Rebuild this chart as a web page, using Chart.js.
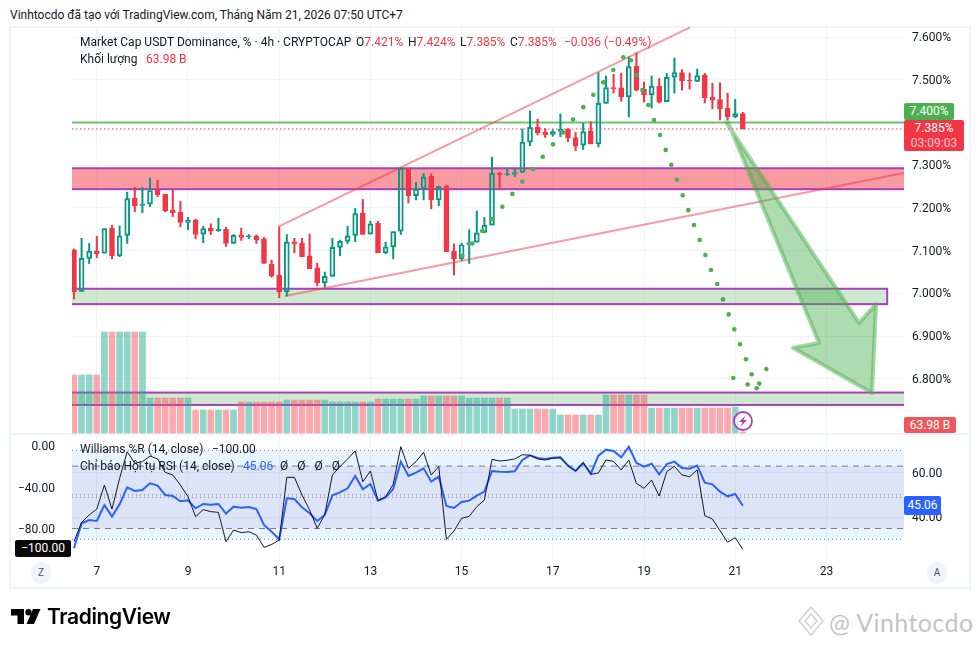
<!DOCTYPE html>
<html>
<head>
<meta charset="utf-8">
<title>USDT Dominance</title>
<script src="https://cdn.jsdelivr.net/npm/chart.js@4"></script>
<style>
    html, body { margin: 0; padding: 0; background: #fff; }
    body { width: 979px; height: 647px; position: relative; overflow: hidden; font-family: Roboto, sans-serif; color: #131722; font-size: 12px; }
    canvas { position: absolute; left: 0; display: block; }
    #frame { position: absolute; left: 9px; top: 26px; width: 958px; height: 559px; border: 2px solid #f0f3fa; }
    #sep { position: absolute; left: 10px; top: 433px; width: 958px; height: 2px; background: #f0f3fa; }
    .t { position: absolute; white-space: nowrap; line-height: 16px; }
    .r { color: #f23645; }
    .tag { position: absolute; color: #fff; text-align: center; white-space: nowrap; }
    .btn { position: absolute; width: 20px; height: 22px; top: 562px; border-radius: 11px; background: #f0f3fa; text-align: center; line-height: 22px; font-size: 10px; color: #50535e; }
</style>
</head>
<body>
<div id="frame"></div>
<div id="sep"></div>
<canvas id="price-chart" width="979" height="408" style="top:26px"></canvas>
<canvas id="osc-chart" width="979" height="153" style="top:434px"></canvas>

<div class="t" style="left:10px;top:7px">Vinhtocdo đã tạo với TradingView.com, Tháng Năm 21, 2026 07:50 UTC+7</div>
<div class="t" style="left:80px;top:34px">Market Cap USDT Dominance, % · 4h · CRYPTOCAP</div>
<div class="t" style="left:356px;top:34px">O<span class="r">7.421%</span></div>
<div class="t" style="left:408px;top:34px">H<span class="r">7.424%</span></div>
<div class="t" style="left:460px;top:34px">L<span class="r">7.385%</span></div>
<div class="t" style="left:510px;top:34px">C<span class="r">7.385%</span></div>
<div class="t r" style="left:564px;top:34px">−0.036 (−0.49%)</div>
<div class="t" style="left:80px;top:51px">Khối lượng</div>
<div class="t r" style="left:146px;top:51px">63.98 B</div>

<div class="t" style="left:80px;top:441px">Williams %R (14, close)</div>
<div class="t" style="left:212px;top:441px">−100.00</div>
<div class="t" style="left:80px;top:458px">Chỉ báo Hội tụ RSI (14, close)</div>
<div class="t" style="left:243px;top:458px;color:#2962ff">45.06</div>
<div class="t" style="left:280px;top:458px;word-spacing:6px">Ø Ø Ø Ø</div>

<div class="tag" style="left:904px;top:103px;width:50px;height:17px;line-height:17px;background:#4caf50;border-radius:2px">7.400%</div>
<div class="tag" style="left:904px;top:120px;width:60px;height:31px;background:#f23645;border-radius:2px;line-height:15px;padding-top:1px;box-sizing:border-box">7.385%<br><span style="color:#fbc4c9">03:09:03</span></div>
<div class="tag" style="left:904px;top:417px;width:52px;height:16px;line-height:16px;background:#f0575c;border-radius:2px">63.98 B</div>
<div class="tag" style="left:15px;top:540px;width:56px;height:17px;line-height:17px;background:#0a0a0a;border-radius:2px">−100.00</div>
<div class="tag" style="left:904px;top:496px;width:37px;height:19px;line-height:19px;background:#2962ff;border-radius:2px">45.06</div>

<div class="btn" style="left:31px">Z</div>
<div class="btn" style="left:927px">A</div>

<svg style="position:absolute;left:733px;top:411px" width="20" height="20" viewBox="0 0 20 20">
    <circle cx="10" cy="10" r="9" fill="rgba(255,255,255,.75)" stroke="#a83fbc" stroke-width="1.8"/>
    <path d="M12.5 4.5 L6 11 L9.5 11 L7.5 15.5 L14 9 L10.5 9 Z" fill="#a83fbc"/>
</svg>

<svg style="position:absolute;left:11px;top:609px" width="30" height="16" viewBox="0 0 30 16">
    <path d="M0 0 H13 V15 H6.5 V6.5 H0 Z" fill="#000"/>
    <circle cx="17.5" cy="3.2" r="3.2" fill="#000"/>
    <path d="M22 0 H29.5 L23 15 H15.5 Z" fill="#000"/>
</svg>
<div class="t" style="left:47px;top:605px;font-family:Inter,sans-serif;font-weight:600;font-size:21px;line-height:24px;letter-spacing:-0.4px;color:#000">TradingView</div>

<svg style="position:absolute;left:798px;top:606px" width="26" height="30" viewBox="0 0 26 30" fill="none" stroke="#cfcfcf" stroke-width="1.4">
    <path d="M13 1 L25 15 L13 29 L1 15 Z"/>
    <path d="M13 8 L19 15 L13 22 L7 15 Z"/>
</svg>
<div class="t" style="left:829px;top:608px;font-family:Lato,sans-serif;font-size:25px;line-height:28px;color:#c4c4c4;letter-spacing:0.4px">@ Vinhtocdo</div>

<script>
// 4h candles
const opens = [7.102, 7.005, 7.082, 7.099, 7.094, 7.153, 7.088, 7.136, 7.223, 7.206, 7.209, 7.242, 7.232, 7.195, 7.190, 7.166, 7.171, 7.139, 7.153, 7.147, 7.150, 7.117, 7.137, 7.133, 7.135, 7.128, 7.069, 7.043, 7.004, 7.121, 7.118, 7.088, 7.060, 7.025, 7.040, 7.108, 7.122, 7.136, 7.188, 7.139, 7.164, 7.095, 7.109, 7.146, 7.293, 7.229, 7.245, 7.274, 7.219, 7.251, 7.099, 7.081, 7.115, 7.120, 7.143, 7.160, 7.281, 7.278, 7.279, 7.283, 7.354, 7.389, 7.377, 7.372, 7.379, 7.384, 7.365, 7.347, 7.380, 7.350, 7.445, 7.482, 7.481, 7.460, 7.532, 7.478, 7.465, 7.485, 7.449, 7.506, 7.517, 7.499, 7.496, 7.511, 7.459, 7.454, 7.433, 7.414, 7.421];
const highs = [7.104, 7.129, 7.117, 7.134, 7.152, 7.160, 7.158, 7.237, 7.248, 7.248, 7.270, 7.265, 7.232, 7.244, 7.216, 7.178, 7.174, 7.157, 7.163, 7.176, 7.155, 7.138, 7.153, 7.138, 7.137, 7.131, 7.078, 7.155, 7.138, 7.129, 7.129, 7.139, 7.071, 7.050, 7.129, 7.125, 7.157, 7.199, 7.220, 7.169, 7.169, 7.120, 7.145, 7.294, 7.293, 7.260, 7.281, 7.280, 7.251, 7.254, 7.116, 7.118, 7.149, 7.193, 7.178, 7.319, 7.284, 7.294, 7.291, 7.385, 7.427, 7.408, 7.386, 7.383, 7.420, 7.386, 7.377, 7.398, 7.402, 7.517, 7.509, 7.513, 7.516, 7.554, 7.563, 7.495, 7.509, 7.503, 7.515, 7.551, 7.524, 7.516, 7.525, 7.515, 7.492, 7.493, 7.469, 7.454, 7.424];
const lows = [6.987, 7.005, 7.070, 7.084, 7.094, 7.081, 7.086, 7.117, 7.191, 7.189, 7.203, 7.226, 7.191, 7.180, 7.156, 7.149, 7.128, 7.119, 7.138, 7.145, 7.110, 7.117, 7.124, 7.128, 7.117, 7.070, 7.038, 6.990, 6.994, 7.095, 7.086, 7.058, 7.018, 7.015, 7.040, 7.088, 7.117, 7.121, 7.138, 7.139, 7.095, 7.093, 7.081, 7.138, 7.212, 7.219, 7.219, 7.198, 7.205, 7.098, 7.043, 7.077, 7.070, 7.120, 7.142, 7.160, 7.246, 7.276, 7.273, 7.283, 7.346, 7.371, 7.365, 7.368, 7.367, 7.355, 7.334, 7.337, 7.350, 7.343, 7.445, 7.469, 7.450, 7.413, 7.474, 7.448, 7.434, 7.446, 7.449, 7.469, 7.476, 7.478, 7.496, 7.446, 7.432, 7.406, 7.406, 7.411, 7.385];
const closes = [7.004, 7.082, 7.099, 7.093, 7.152, 7.088, 7.135, 7.222, 7.205, 7.209, 7.241, 7.231, 7.193, 7.189, 7.166, 7.171, 7.138, 7.152, 7.146, 7.150, 7.117, 7.136, 7.131, 7.135, 7.125, 7.070, 7.041, 7.004, 7.120, 7.116, 7.086, 7.058, 7.025, 7.040, 7.108, 7.122, 7.135, 7.187, 7.138, 7.163, 7.095, 7.109, 7.145, 7.293, 7.229, 7.244, 7.273, 7.219, 7.250, 7.098, 7.081, 7.114, 7.119, 7.142, 7.160, 7.281, 7.278, 7.280, 7.283, 7.354, 7.389, 7.376, 7.371, 7.379, 7.384, 7.364, 7.345, 7.379, 7.350, 7.445, 7.482, 7.479, 7.460, 7.531, 7.476, 7.465, 7.485, 7.448, 7.506, 7.517, 7.498, 7.498, 7.510, 7.458, 7.453, 7.432, 7.413, 7.421, 7.385];
// volume, in billions
const volumes = [3712, 3712, 3712, 3712, 6464, 6464, 6464, 6464, 6464, 6464, 2240, 2240, 2240, 2240, 2240, 2240, 1472, 1472, 1472, 1472, 1472, 1472, 1984, 1984, 1984, 1984, 1984, 1984, 2112, 2112, 2112, 2112, 2112, 2112, 1984, 1984, 1984, 1984, 1984, 1984, 2176, 2176, 2176, 2176, 2176, 2176, 2368, 2368, 2368, 2368, 2368, 2368, 2240, 2240, 2240, 2240, 2240, 2240, 1536, 1536, 1536, 1536, 1536, 1536, 1152, 1152, 1152, 1152, 1152, 1152, 2432, 2432, 2432, 2432, 2432, 2432, 1600, 1600, 1600, 1600, 1600, 1600, 1600, 1600, 1600, 1600, 1600, 1664, 63.98];
const williams = [-92.7, -74.1, -67.0, -61.3, -38.2, -61.3, -31.8, -6.1, -17.3, -15.7, -10.3, -13.1, -26.0, -28.5, -38.2, -49.4, -68.6, -61.9, -63.8, -64.5, -92.7, -81.5, -84.0, -83.1, -86.3, -98.2, -95.3, -91.1, -30.8, -30.8, -47.8, -62.2, -79.9, -66.4, -28.5, -20.5, -13.1, -5.4, -35.0, -24.7, -53.2, -49.4, -37.5, -1.3, -22.1, -15.7, -6.7, -28.5, -20.5, -90.5, -82.4, -70.2, -68.3, -59.0, -52.6, -13.5, -15.1, -14.4, -13.1, -9.0, -9.6, -13.1, -14.1, -12.5, -11.9, -19.6, -24.7, -16.4, -27.9, -26.6, -14.1, -15.4, -23.7, -14.1, -36.6, -41.4, -33.4, -48.8, -25.3, -20.2, -28.5, -30.2, -23.7, -67.7, -70.9, -82.1, -93.3, -88.9, -100];
const rsi = [25.96, 37.19, 38.69, 38.24, 45.43, 40.19, 45.73, 53.37, 51.72, 52.17, 55.17, 54.12, 49.93, 49.48, 47.08, 47.53, 43.93, 45.88, 45.58, 45.88, 41.54, 44.68, 44.23, 44.53, 43.63, 36.44, 33.45, 30.0, 48.43, 48.13, 44.38, 41.69, 38.24, 40.94, 49.78, 51.13, 52.92, 58.46, 52.47, 54.87, 47.38, 48.88, 52.62, 64.91, 58.46, 59.96, 61.91, 55.92, 58.16, 44.98, 44.08, 46.78, 47.38, 49.63, 51.42, 60.71, 60.41, 60.26, 60.56, 65.66, 67.75, 66.55, 66.10, 66.70, 66.85, 63.11, 60.71, 64.31, 59.51, 67.60, 70.30, 69.70, 66.85, 71.65, 64.31, 62.66, 64.01, 59.21, 63.86, 64.91, 62.06, 61.76, 63.11, 55.47, 54.72, 51.42, 49.33, 50.38, 45.06];

// axes
const dayTicks = [3, 15, 27, 39, 51, 63, 75, 87, 99];
const dayLabels = ["7", "9", "11", "13", "15", "17", "19", "21", "23"];
const priceTicks = [6.8, 6.9, 7.0, 7.1, 7.2, 7.3, 7.4, 7.5, 7.6];
const williamsTicks = [0, -40, -80];
const rsiTicks = [40, 60];

// drawings on the price pane, bar index and price
const zoneTops = [7.293, 7.011, 6.768];
const zoneBottoms = [7.244, 6.975, 6.739];
const zoneEnds = [120, 107.0, 120];
const zoneFills = ["rgba(242, 54, 69, 0.5)", "rgba(76, 175, 80, 0.27)", "rgba(76, 175, 80, 0.27)"];
const upperTrendX = [26.84, 81.05];
const upperTrendY = [7.156, 7.623];
const lowerTrendX = [27.76, 109.2];
const lowerTrendY = [6.994, 7.282];
const arrowX = [86.05, 98.03, 94.6, 105.0, 105.53, 103.3, 85.8];
const arrowY = [7.401, 6.884, 6.873, 6.767, 6.975, 6.931, 7.401];
const dotsX = [51.09, 52.41, 53.72, 55.04, 56.36, 57.67, 58.99, 60.36, 61.68, 63.03, 64.34, 65.66, 67.01, 68.33, 69.64, 70.96, 72.28, 73.29, 74.04, 74.79, 75.57, 76.32, 77.11, 77.86, 78.59, 79.34, 80.09, 80.83, 81.58, 82.33, 83.08, 83.82, 84.64, 85.39, 86.14, 86.88, 87.63, 88.42, 89.17, 86.75, 88.64, 89.83, 90.17, 91.09];
const dotsY = [7.088, 7.117, 7.146, 7.174, 7.203, 7.233, 7.262, 7.291, 7.320, 7.349, 7.377, 7.407, 7.436, 7.465, 7.494, 7.523, 7.553, 7.546, 7.511, 7.476, 7.441, 7.406, 7.371, 7.336, 7.301, 7.266, 7.230, 7.195, 7.160, 7.125, 7.090, 7.055, 7.022, 6.986, 6.951, 6.916, 6.881, 6.846, 6.811, 6.802, 6.787, 6.778, 6.789, 6.823];

const UP = "#089981";
const DOWN = "#f23645";
const GRID = "#f0f3fa";
const TEXT = "#131722";
const FONT = "Roboto, sans-serif";
const X_MIN = -0.263;
const X_MAX = 109.21;

const isUp = closes.map((c, i) => c >= opens[i]);
const points = (xs, ys) => xs.map((x, i) => ({ x: x, y: ys[i] }));

function hLine(value, yAxisID, color, width, dash, order) {
    return {
        type: "line",
        data: points([X_MIN, X_MAX], [value, value]),
        yAxisID: yAxisID,
        borderColor: color,
        borderWidth: width,
        borderDash: dash,
        pointRadius: 0,
        order: order,
    };
}

function trendLine(xs, ys) {
    return {
        type: "line",
        data: points(xs, ys),
        yAxisID: "y",
        borderColor: "rgba(242, 54, 69, 0.5)",
        borderWidth: 2,
        pointRadius: 0,
        order: -1,
    };
}

function barSet(data, colors, thickness, yAxisID, order, extra) {
    return Object.assign({
        type: "bar",
        data: data,
        yAxisID: yAxisID,
        backgroundColor: colors,
        barThickness: thickness,
        grouped: false,
        order: order,
    }, extra);
}

function fixedTicks(values) {
    return function (scale) {
        scale.ticks = values.map((v) => ({ value: v }));
    };
}

// keep the plot area on exact pixels, no room reserved for half a label
function noPadding(scale) {
    scale.paddingTop = 0;
    scale.paddingBottom = 0;
    scale.paddingLeft = 0;
    scale.paddingRight = 0;
}

const zonesPlugin = {
    id: "zones",
    beforeDatasetsDraw(chart) {
        const { ctx, chartArea: a, scales: { x, y } } = chart;
        ctx.save();
        ctx.beginPath();
        ctx.rect(a.left, a.top, a.width, a.height);
        ctx.clip();
        zoneTops.forEach((top, i) => {
            const left = x.getPixelForValue(-10);
            const right = x.getPixelForValue(zoneEnds[i]);
            const y0 = y.getPixelForValue(top);
            const y1 = y.getPixelForValue(zoneBottoms[i]);
            ctx.fillStyle = zoneFills[i];
            ctx.fillRect(left, y0, right - left, y1 - y0);
            ctx.strokeStyle = "#a83fbc";
            ctx.lineWidth = 2;
            ctx.strokeRect(left, y0, right - left, y1 - y0);
        });
        ctx.restore();
    },
};

const arrowPlugin = {
    id: "arrow",
    afterDatasetsDraw(chart) {
        const { ctx, scales: { x, y } } = chart;
        ctx.save();
        ctx.beginPath();
        arrowX.forEach((v, i) => {
            ctx.lineTo(x.getPixelForValue(v), y.getPixelForValue(arrowY[i]));
        });
        ctx.closePath();
        ctx.fillStyle = "rgba(76, 175, 80, 0.45)";
        ctx.fill();
        ctx.strokeStyle = "rgba(76, 175, 80, 0.5)";
        ctx.lineWidth = 4;
        ctx.lineJoin = "round";
        ctx.stroke();
        ctx.restore();
    },
};

const bandsPlugin = {
    id: "bands",
    beforeDatasetsDraw(chart) {
        const { ctx, chartArea: a, scales: { yRsi, yWr } } = chart;
        ctx.save();
        ctx.fillStyle = "rgba(33, 150, 243, 0.1)";
        ctx.fillRect(a.left, yRsi.getPixelForValue(70), a.width, yRsi.getPixelForValue(30) - yRsi.getPixelForValue(70));
        ctx.fillStyle = "rgba(126, 87, 194, 0.1)";
        ctx.fillRect(a.left, yWr.getPixelForValue(-20), a.width, yWr.getPixelForValue(-80) - yWr.getPixelForValue(-20));
        ctx.restore();
    },
};

document.addEventListener("DOMContentLoaded", function () {
    const idx = opens.map((_, i) => i);

    new Chart(document.getElementById("price-chart"), {
        type: "bar",
        data: {
            datasets: [
                barSet(idx.map((i) => ({ x: i, y: volumes[i] })), idx.map((i) => (isUp[i] ? "rgba(34, 171, 148, 0.5)" : "rgba(247, 82, 95, 0.5)")), 6, "yVol", 5),
                hLine(7.4, "y", "rgba(76, 175, 80, 0.8)", 2, [], 4),
                hLine(closes[closes.length - 1], "y", DOWN, 1, [1.5, 2.5], 4),
                barSet(idx.map((i) => ({ x: i, y: [lows[i], Math.min(opens[i], closes[i])] })), idx.map((i) => (isUp[i] ? UP : DOWN)), 1.4, "y", 2),
                barSet(idx.map((i) => ({ x: i, y: [Math.max(opens[i], closes[i]), highs[i]] })), idx.map((i) => (isUp[i] ? UP : DOWN)), 1.4, "y", 2),
                barSet(idx.map((i) => ({ x: i, y: [opens[i], closes[i]] })), idx.map((i) => (isUp[i] ? "rgba(0, 0, 0, 0)" : DOWN)), 5, "y", 1, {
                    borderColor: idx.map((i) => (isUp[i] ? UP : DOWN)),
                    borderWidth: 1.3,
                    borderSkipped: false,
                }),
                trendLine(upperTrendX, upperTrendY),
                trendLine(lowerTrendX, lowerTrendY),
                {
                    type: "line",
                    data: points(dotsX, dotsY),
                    yAxisID: "y",
                    showLine: false,
                    pointRadius: 2.3,
                    pointBorderWidth: 0,
                    pointBackgroundColor: "#4caf50",
                    order: -2,
                },
            ],
        },
        options: {
            responsive: false,
            animation: false,
            events: [],
            layout: { autoPadding: false, padding: { left: 72 } },
            plugins: { legend: { display: false }, tooltip: { enabled: false } },
            scales: {
                x: {
                    type: "linear",
                    min: X_MIN,
                    max: X_MAX,
                    offset: false,
                    afterBuildTicks: fixedTicks(dayTicks),
                    afterFit(scale) { scale.height = 0; noPadding(scale); },
                    ticks: { display: false },
                    border: { display: false },
                    grid: { color: GRID, offset: false, drawTicks: false },
                },
                y: {
                    position: "right",
                    min: 6.671,
                    max: 7.626,
                    afterBuildTicks: fixedTicks(priceTicks),
                    afterFit(scale) { scale.width = 75; noPadding(scale); },
                    ticks: {
                        color: TEXT,
                        padding: 8,
                        labelOffset: 1,
                        font: { family: FONT, size: 12 },
                        callback: (v) => v.toFixed(3) + "%",
                    },
                    border: { display: false },
                    grid: { color: GRID, drawTicks: false },
                },
                yVol: {
                    display: false,
                    min: -64,
                    max: 26048,
                },
            },
        },
        plugins: [zonesPlugin, arrowPlugin],
    });

    new Chart(document.getElementById("osc-chart"), {
        type: "line",
        data: {
            datasets: [
                hLine(70, "yRsi", "#787b86", 1, [1, 3], 3),
                hLine(50, "yRsi", "#787b86", 1, [1, 3], 3),
                hLine(30, "yRsi", "#787b86", 1, [1, 3], 3),
                hLine(-20, "yWr", "#787b86", 1, [6, 5], 3),
                hLine(-50, "yWr", "#787b86", 1, [1, 3], 3),
                hLine(-80, "yWr", "#787b86", 1, [6, 5], 3),
                {
                    data: points(idx, rsi),
                    yAxisID: "yRsi",
                    borderColor: "#2962ff",
                    borderWidth: 2,
                    pointRadius: 0,
                    order: 2,
                },
                {
                    data: points(idx, williams),
                    yAxisID: "yWr",
                    borderColor: "#131722",
                    borderWidth: 1,
                    pointRadius: 0,
                    order: 1,
                },
            ],
        },
        options: {
            responsive: false,
            animation: false,
            events: [],
            layout: { autoPadding: false },
            plugins: { legend: { display: false }, tooltip: { enabled: false } },
            scales: {
                x: {
                    type: "linear",
                    min: X_MIN,
                    max: X_MAX,
                    afterBuildTicks: fixedTicks(dayTicks),
                    afterFit(scale) { scale.height = 29; noPadding(scale); },
                    ticks: {
                        color: TEXT,
                        padding: 7,
                        maxRotation: 0,
                        font: { family: FONT, size: 12 },
                        callback: (v) => dayLabels[dayTicks.indexOf(v)],
                    },
                    border: { display: false },
                    grid: { color: GRID, drawTicks: false },
                },
                yWr: {
                    position: "left",
                    min: -108.4,
                    max: 10.9,
                    afterBuildTicks: fixedTicks(williamsTicks),
                    afterFit(scale) { scale.width = 72; noPadding(scale); },
                    ticks: {
                        color: TEXT,
                        padding: 9,
                        labelOffset: 2,
                        font: { family: FONT, size: 12 },
                        callback: (v) => v.toFixed(2).replace("-", "−"),
                    },
                    border: { display: false },
                    grid: { display: false },
                },
                yRsi: {
                    position: "right",
                    min: 21.6,
                    max: 77.34,
                    afterBuildTicks: fixedTicks(rsiTicks),
                    afterFit(scale) { scale.width = 75; noPadding(scale); },
                    ticks: {
                        color: TEXT,
                        padding: 8,
                        labelOffset: 1,
                        font: { family: FONT, size: 12 },
                        callback: (v) => v.toFixed(2),
                    },
                    border: { display: false },
                    grid: { color: GRID, drawTicks: false },
                },
            },
        },
        plugins: [bandsPlugin],
    });
});
</script>
</body>
</html>
